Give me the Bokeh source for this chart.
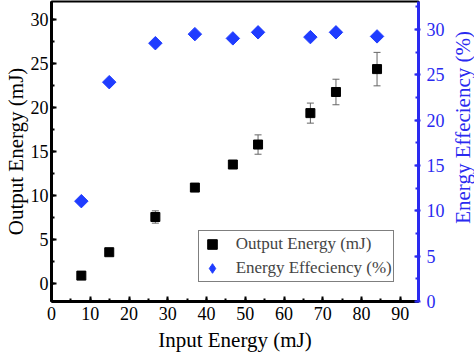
import numpy as np
from bokeh.plotting import figure
from bokeh.layouts import row
from bokeh.models import (Range1d, LinearAxis, SingleIntervalTicker, ColumnDataSource,
                          Whisker, TeeHead, Legend, LegendItem)
from bokeh.core.properties import value
from bokeh.embed import file_html
from bokeh.resources import INLINE

# data
input_energy = [7.7, 14.9, 26.8, 37.0, 46.8, 53.3, 66.8, 73.4, 84.0]
output_energy = [0.94, 3.6, 7.6, 10.94, 13.56, 15.83, 19.4, 21.8, 24.4]
output_err = [0.2, 0.3, 0.7, 0.3, 0.4, 1.1, 1.14, 1.45, 1.9]
efficiency = [11.07, 24.2, 28.5, 29.5, 29.03, 29.7, 29.17, 29.7, 29.25]
series_labels = ["Output Energy (mJ)", "Energy Effeciency (%)"]
right_title = ["Energy Effeciency (%)"]

FONT = "Liberation Serif"
BLUE = "#1f3cff"
AXBLUE = "#2a2af0"

p = figure(width=447, height=355, output_backend="svg", toolbar_location=None,
           x_range=Range1d(0, 94.7), y_range=Range1d(-2, 32.08),
           min_border_left=49, min_border_right=28, min_border_top=1, min_border_bottom=54)
p.extra_y_ranges = {"eff": Range1d(0, 33.1)}
p.grid.visible = False
p.outline_line_color = "black"
p.outline_line_width = 2
p.background_fill_color = "white"
p.border_fill_color = "white"

xax = p.xaxis[0]
xax.ticker = SingleIntervalTicker(interval=10, num_minor_ticks=2)
yax = p.yaxis[0]
yax.ticker = SingleIntervalTicker(interval=5, num_minor_ticks=2)
for ax in (xax, yax):
    ax.axis_line_width = 3
    ax.axis_line_color = "black"
    ax.major_tick_in = 5
    ax.major_tick_out = 0
    ax.minor_tick_in = 3
    ax.minor_tick_out = 0
    ax.major_tick_line_width = 2
    ax.minor_tick_line_width = 2
    ax.major_label_text_font = FONT
    ax.major_label_text_font_size = "18px"
    ax.major_label_text_color = "black"
    ax.axis_label_text_font = FONT
    ax.axis_label_text_font_size = "21px"
    ax.axis_label_text_font_style = "normal"
    ax.axis_label_text_color = "black"
xax.axis_label = "Input Energy (mJ)"
yax.axis_label = "Output Energy (mJ)"
xax.major_label_standoff = 5
xax.axis_label_standoff = 5
yax.major_label_standoff = 3
yax.axis_label_standoff = 0

rax = LinearAxis(y_range_name="eff", ticker=SingleIntervalTicker(interval=5, num_minor_ticks=2))
rax.axis_line_width = 3
rax.axis_line_color = AXBLUE
rax.major_tick_line_color = AXBLUE
rax.minor_tick_line_color = AXBLUE
rax.major_tick_in = 4
rax.major_tick_out = 2
rax.minor_tick_in = 3
rax.minor_tick_out = 0
rax.major_tick_line_width = 2
rax.minor_tick_line_width = 2
rax.major_label_text_font = FONT
rax.major_label_text_font_size = "18px"
rax.major_label_text_color = AXBLUE
rax.major_label_standoff = 6
p.add_layout(rax, "right")

# error bars
src = ColumnDataSource(dict(x=input_energy, y=output_energy,
                            upper=[v + e for v, e in zip(output_energy, output_err)],
                            lower=[v - e for v, e in zip(output_energy, output_err)]))
wh = Whisker(source=src, base="x", upper="upper", lower="lower",
             line_color="#666666", line_width=1,
             upper_head=TeeHead(size=7, line_color="#666666", line_width=1),
             lower_head=TeeHead(size=7, line_color="#666666", line_width=1))
p.add_layout(wh)

r_out = p.scatter("x", "y", source=src, marker="square", size=9,
                  fill_color="black", line_color="black")
# diamond-marker layer (used as the legend key; hidden under the turned squares)
r_eff_key = p.scatter(input_energy, efficiency, y_range_name="eff", marker="diamond",
                      size=9, fill_color=BLUE, line_color=BLUE)
# efficiency points: squares turned 45 degrees (diamonds)
r_eff = p.scatter(input_energy, efficiency, y_range_name="eff", marker="square",
                  angle=np.pi / 4, size=9.5, fill_color=BLUE, line_color=BLUE)

legend = Legend(items=[LegendItem(label=series_labels[0], renderers=[r_out]),
                       LegendItem(label=series_labels[1], renderers=[r_eff_key])],
                location=(146.7, 19.3))
legend.label_text_font = FONT
legend.label_text_font_size = "17px"
legend.border_line_color = "black"
legend.border_line_width = 1.5
legend.padding = 1
legend.margin = 0
legend.spacing = 0
legend.glyph_width = 24
legend.glyph_height = 24
legend.label_height = 20
legend.label_standoff = 12
legend.background_fill_alpha = 1
p.add_layout(legend, "center")

# narrow side strip holding the right-hand axis title (reads bottom to top)
p2 = figure(width=27, height=355, output_backend="svg", toolbar_location=None,
            x_range=Range1d(0, 27), y_range=Range1d(355, 0),
            x_axis_location=None, y_axis_location=None, min_border=0)
p2.grid.visible = False
p2.outline_line_color = None
p2.background_fill_color = "white"
p2.border_fill_color = "white"
p2.text(x=[15], y=[149], text=right_title, angle=np.pi / 2,
        text_align="center", text_baseline="middle", text_font=value(FONT),
        text_font_size="21px", text_color=AXBLUE)

layout = row(p, p2, spacing=0)
open("out.html", "w").write(file_html(layout, INLINE))
